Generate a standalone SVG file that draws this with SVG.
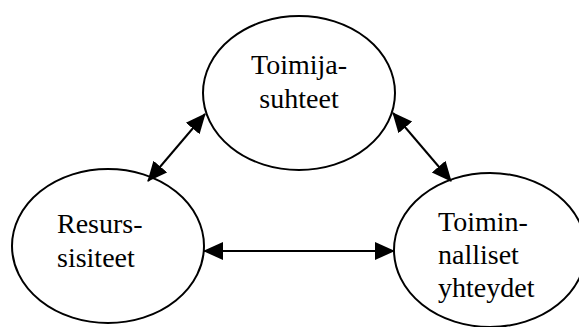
<svg xmlns="http://www.w3.org/2000/svg" width="579" height="327" viewBox="0 0 579 327">
<style>
.node ellipse{fill:#fff;stroke:#000;stroke-width:2}
.node text{font-family:'Liberation Serif','Times New Roman',serif;font-size:28px;fill:#000}
.conn line{stroke:#000;stroke-width:2;marker-start:url(#ah);marker-end:url(#ah)}
</style>
<defs>
<marker id="ah" viewBox="0 0 20 20" refX="19" refY="10" markerWidth="20" markerHeight="20" markerUnits="userSpaceOnUse" orient="auto-start-reverse">
<path d="M0,1 L20,10 L0,19 z" fill="#000"/>
</marker>
</defs>
<rect width="579" height="327" fill="#fff"/>
<g id="toimijasuhteet" class="node" font-family="Liberation Serif, serif">
<ellipse cx="299" cy="93" rx="96" ry="77"/>
<text x="299" y="74" text-anchor="middle">Toimija-</text>
<text x="299" y="108" text-anchor="middle">suhteet</text>
</g>
<g id="resurssiteet" class="node" font-family="Liberation Serif, serif">
<ellipse cx="108" cy="246" rx="96" ry="77"/>
<text x="57" y="233">Resurs-</text>
<text x="57" y="267">sisiteet</text>
</g>
<g id="toiminnalliset" class="node" font-family="Liberation Serif, serif">
<ellipse cx="490" cy="250" rx="96" ry="77"/>
<text x="438" y="231">Toimin-</text>
<text x="438" y="264">nalliset</text>
<text x="438" y="297">yhteydet</text>
</g>
<g id="connectors" class="conn">
<line x1="205" y1="114" x2="148" y2="181"/>
<line x1="393" y1="113" x2="451" y2="181"/>
<line x1="204" y1="251" x2="394" y2="251"/>
</g>
</svg>
